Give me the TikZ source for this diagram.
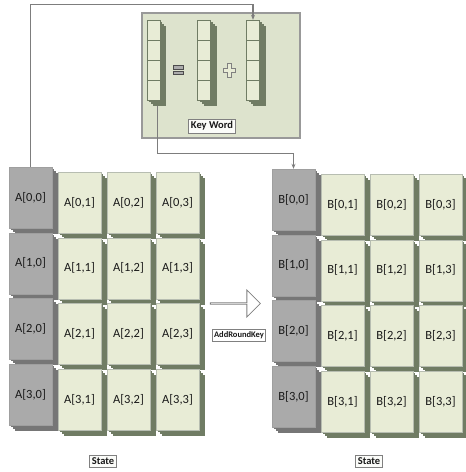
\documentclass[tikz,border=0pt]{standalone}
\usepackage{fontspec}
\setmainfont{Carlito}
\usepackage{tikz}
\usetikzlibrary{shapes.arrows,arrows.meta}

\definecolor{cellgreen}{RGB}{232,236,214}
\definecolor{sidegreen}{RGB}{112,124,100}
\definecolor{cellgray}{RGB}{170,170,170}
\definecolor{sidegray}{RGB}{118,118,118}
\definecolor{keyback}{RGB}{221,227,205}
\definecolor{wire}{RGB}{125,125,125}
\definecolor{txt}{RGB}{25,25,25}

\tikzset{
  block/.style={preaction={fill=#1, draw=none, transform canvas={shift={(2pt,-2pt)}}},
                preaction={fill=#1, draw=none, transform canvas={shift={(4pt,-4pt)}}},
                preaction={fill=#1, draw=none, transform canvas={shift={(6pt,-6pt)}}}},
  greencell/.style={block=sidegreen, fill=cellgreen, draw=sidegreen!50, minimum width=43pt,
                    minimum height=61pt, inner sep=0pt, text=txt, font=\fontsize{12.5}{12.5}\selectfont},
  graycell/.style={block=sidegray, fill=cellgray, draw=sidegray!70, minimum width=43pt,
                   minimum height=61pt, inner sep=0pt, text=txt, font=\fontsize{12.5}{12.5}\selectfont},
  keycell/.style={block=sidegreen, fill=cellgreen, draw=sidegreen, minimum width=13pt,
                  minimum height=20pt, inner sep=0pt},
  tag/.style={draw=gray, line width=0.9pt, fill=white!88!keyback, text=txt, inner sep=2.5pt,
              font=\bfseries\fontsize{10.5}{10.5}\selectfont},
  wireline/.style={draw=wire, line width=1.3pt}
}

\begin{document}
\begin{tikzpicture}[x=1pt,y=-1pt]
        \useasboundingbox (0,0) rectangle (466,472);
        % key word box
        \node[draw=gray!80, fill=keyback, line width=1.2pt, minimum width=158pt, minimum height=125pt] (kbox) at (221,75.5) {};
        \foreach \c/\x in {L/153.5,M/204,R/253}
            \foreach \r in {0,...,3}
                \node[keycell] (k\c\r) at (\x,30+20*\r) {};
        \draw[fill=gray!65, draw=gray!60!black] (173,65.5) rectangle (183,69);
        \draw[fill=gray!65, draw=gray!60!black] (173,71) rectangle (183,74.5);
        \draw[fill=cellgreen, draw=gray] (227,63) -- (231,63) -- (231,68) -- (235,68) -- (235,72) -- (231,72)
            -- (231,77) -- (227,77) -- (227,72) -- (223,72) -- (223,68) -- (227,68) -- cycle;
        \node[tag] (kword) at (212,126) {Key Word};
        % the two states
        \foreach \m/\dx/\dy in {A/0/0,B/263/2}
            \foreach \i in {0,...,3} {
                \node[graycell] (\m\i0) at (30.5+\dx,197.5+65.7*\i+\dy) {\m[\i,0]};
                \foreach \j in {1,2,3}
                    \node[greencell] (\m\i\j) at (30.5+49*\j+\dx,202.5+65.7*\i+\dy) {\m[\i,\j]};
            }
        \node[tag] (stateA) at (103,461) {State};
        \node[tag] (stateB) at (369,461) {State};
        % operation
        \node[single arrow, draw=gray, line width=0.8pt, fill=white, minimum height=50pt, minimum width=27pt,
              single arrow head extend=7pt, inner sep=0pt] (arr) at (235,303.5) {};
        \node[tag, fill=white, font=\bfseries\fontsize{8.5}{8.5}\selectfont, inner sep=2pt] (ark) at (239,335.5) {AddRoundKey};
        % wires
        \draw[wireline, -{Stealth[length=5pt,width=4pt]}] (A00.north) -- ++(0,-162) -| (kR0.north);
        \draw[wireline, -{Stealth[length=5pt,width=4pt]}] ([xshift=4pt,yshift=-6pt]kL3.south) -- ++(0,47) -| (B00.north);
\end{tikzpicture}
\end{document}
